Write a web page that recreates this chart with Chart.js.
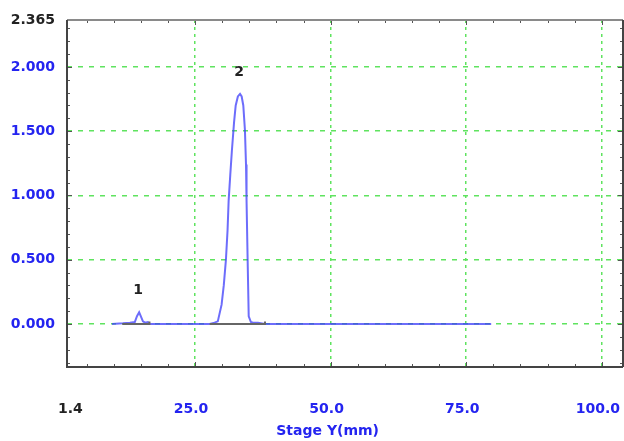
<!DOCTYPE html>
<html>
<head>
<meta charset="utf-8">
<script src="https://cdn.jsdelivr.net/npm/chart.js"></script>
<style>
    html, body { margin: 0; padding: 0; background: #ffffff; }
    #wrap { width: 624px; height: 441px; position: relative; }
</style>
</head>
<body>
<div id="wrap"><canvas id="chromChart"></canvas></div>
<script>
// trace (Stage Y in mm, signal)
const traceX = [9.7, 11.7, 13.0, 13.9, 14.3, 14.7, 15.0, 15.4, 15.8, 16.3, 16.7,
                27.7, 28.6, 29.2, 29.9, 30.3, 30.7, 31.0, 31.2, 31.5, 31.8, 32.2, 32.5, 32.9,
                33.3, 33.6, 33.9, 34.2, 34.4, 34.5, 34.7, 34.9, 35.3, 35.7, 36.6, 37.9, 79.6];
const traceY = [0, 0.005, 0.01, 0.015, 0.06, 0.09, 0.06, 0.02, 0.01, 0.015, 0,
                0, 0.01, 0.02, 0.15, 0.30, 0.50, 0.73, 0.96, 1.16, 1.35, 1.57, 1.70, 1.77,
                1.79, 1.77, 1.70, 1.51, 1.24, 0.96, 0.50, 0.06, 0.015, 0.01, 0.01, 0, 0];

// integration baselines under the peaks
const base1X = [11.6, 16.6, 16.6];
const base1Y = [0, 0, 0.02];
const base2X = [27.7, 37.9, 37.9];
const base2Y = [0, 0, 0.02];

// peak markers
const peakNames = ['1', '2'];
const peakX = [14.7, 33.3];
const peakY = [0.09, 1.79];

// axes
const xMin = 1.4, xMax = 103.9;
const yMin = -0.335, yMax = 2.365;
const xTicks = [1.4, 5, 10, 15, 20, 25, 30, 35, 40, 45, 50, 55, 60, 65, 70, 75, 80, 85, 90, 95, 100];
const xLabelTicks = [1.4, 25, 50, 75, 100];
const xGridTicks = [25, 50, 75, 100];
const yTicks = [-0.3, -0.2, -0.1, 0, 0.1, 0.2, 0.3, 0.4, 0.5, 0.6, 0.7, 0.8, 0.9, 1.0,
                1.1, 1.2, 1.3, 1.4, 1.5, 1.6, 1.7, 1.8, 1.9, 2.0, 2.1, 2.2, 2.3, 2.365];
const yLabelTicks = [0, 0.5, 1.0, 1.5, 2.0, 2.365];
const yGridTicks = [0, 0.5, 1.0, 1.5, 2.0];
const xTitle = 'Stage Y(mm)';

const BLUE = '#2424f0';
const GREEN = '#5fe35f';
const FONT = { family: '"DejaVu Sans", sans-serif', size: 14, weight: 'bold' };

const isIn = (arr, v) => arr.some(a => Math.abs(a - v) < 1e-6);
const toPts = (xs, ys) => xs.map((x, i) => ({ x: x, y: ys[i] }));

// frame, inward tick marks, peak numbers and axis title
const framePlugin = {
    id: 'frame',
    afterDraw(chart) {
        const { ctx, chartArea: a, scales } = chart;
        const xs = scales.x, ys = scales.y;
        ctx.save();
        ctx.strokeStyle = '#555555';
        ctx.lineWidth = 1;
        xTicks.forEach(v => {
            const px = Math.round(xs.getPixelForValue(v)) + 0.5;
            const len = isIn(xGridTicks, v) ? 5 : 3;
            ctx.beginPath();
            ctx.moveTo(px, a.bottom); ctx.lineTo(px, a.bottom - len);
            ctx.moveTo(px, a.top); ctx.lineTo(px, a.top + len);
            ctx.stroke();
        });
        yTicks.forEach(v => {
            const py = Math.round(ys.getPixelForValue(v)) + 0.5;
            const len = isIn(yGridTicks, v) ? 5 : 3;
            ctx.beginPath();
            ctx.moveTo(a.left, py); ctx.lineTo(a.left + len, py);
            ctx.moveTo(a.right, py); ctx.lineTo(a.right - len, py);
            ctx.stroke();
        });
        ctx.lineWidth = 2;
        ctx.strokeStyle = '#8a8a8a';
        ctx.beginPath();
        ctx.moveTo(a.left, a.top); ctx.lineTo(a.right, a.top);
        ctx.stroke();
        ctx.strokeStyle = '#444444';
        ctx.beginPath();
        ctx.moveTo(a.left, a.top); ctx.lineTo(a.left, a.bottom); ctx.lineTo(a.right, a.bottom);
        ctx.moveTo(a.right, a.top); ctx.lineTo(a.right, a.bottom);
        ctx.stroke();

        ctx.font = 'bold 14px "DejaVu Sans", sans-serif';
        ctx.textAlign = 'center';
        ctx.textBaseline = 'middle';
        ctx.fillStyle = '#222222';
        peakNames.forEach((name, i) => {
            ctx.fillText(name, xs.getPixelForValue(peakX[i]) - 1, ys.getPixelForValue(peakY[i]) - 22);
        });
        ctx.fillStyle = BLUE;
        ctx.fillText(xTitle, xs.getPixelForValue(50) - 3, a.bottom + 64);
        ctx.restore();
    }
};

new Chart(document.getElementById('chromChart'), {
    type: 'scatter',
    data: {
        datasets: [
            {
                data: toPts(base1X, base1Y),
                showLine: true,
                borderColor: '#666666',
                borderWidth: 2,
                pointRadius: 0
            },
            {
                data: toPts(base2X, base2Y),
                showLine: true,
                borderColor: '#666666',
                borderWidth: 2,
                pointRadius: 0
            },
            {
                data: toPts(traceX, traceY),
                showLine: true,
                borderColor: 'rgba(60, 60, 250, 0.75)',
                borderWidth: 2,
                pointRadius: 0,
                tension: 0
            }
        ]
    },
    options: {
        responsive: true,
        maintainAspectRatio: false,
        animation: false,
        layout: { padding: { left: 0, top: 20, right: 1, bottom: 0 } },
        plugins: {
            legend: { display: false },
            tooltip: { enabled: false }
        },
        scales: {
            x: {
                type: 'linear',
                min: xMin,
                max: xMax,
                afterBuildTicks: s => { s.ticks = xTicks.map(v => ({ value: v })); },
                afterFit: s => { s.height = 74; s.paddingLeft = 0; s.paddingRight = 0; },
                border: { display: false, dash: [3, 4] },
                grid: {
                    drawTicks: false,
                    lineWidth: 1.5,
                    color: c => isIn(xGridTicks, c.tick.value) ? GREEN : 'rgba(0,0,0,0)'
                },
                ticks: {
                    autoSkip: false,
                    maxRotation: 0,
                    padding: 34,
                    labelOffset: -4,
                    font: FONT,
                    color: c => c.tick.value === 1.4 ? '#222222' : BLUE,
                    callback: v => {
                        if (!isIn(xLabelTicks, v)) return '';
                        return v === 1.4 ? '\u00a0\u00a0\u00a01.4' : v.toFixed(1);
                    }
                }
            },
            y: {
                type: 'linear',
                min: yMin,
                max: yMax,
                afterBuildTicks: s => { s.ticks = yTicks.map(v => ({ value: v })); },
                afterFit: s => { s.width = 67; s.paddingTop = 0; s.paddingBottom = 0; },
                border: { display: false, dash: [5, 6] },
                grid: {
                    drawTicks: false,
                    lineWidth: 1.5,
                    color: c => isIn(yGridTicks, c.tick.value) ? GREEN : 'rgba(0,0,0,0)'
                },
                ticks: {
                    autoSkip: false,
                    padding: 12,
                    font: FONT,
                    color: c => c.tick.value === 2.365 ? '#222222' : BLUE,
                    callback: v => isIn(yLabelTicks, v) ? v.toFixed(3) : ''
                }
            }
        }
    },
    plugins: [framePlugin]
});
</script>
</body>
</html>
